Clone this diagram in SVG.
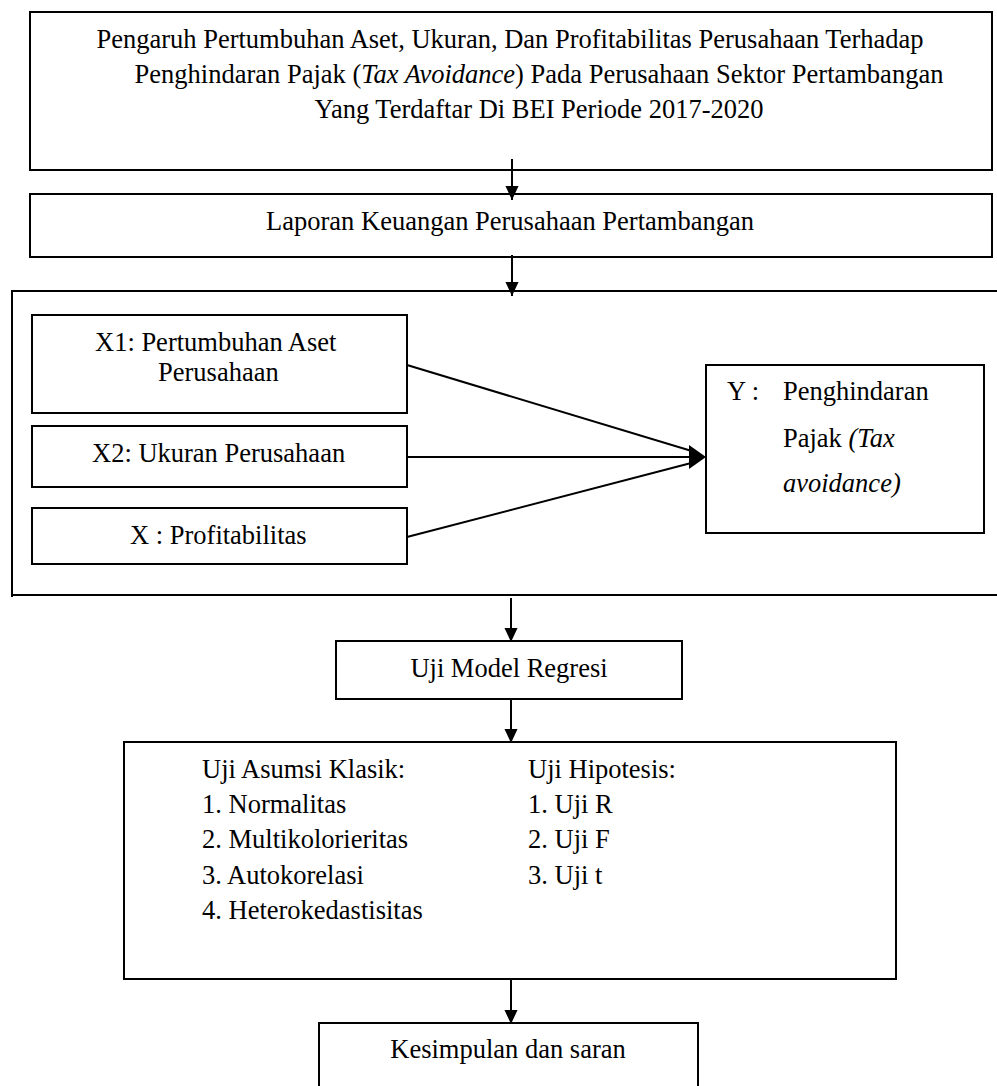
<svg xmlns="http://www.w3.org/2000/svg" width="997" height="1086" viewBox="0 0 997 1086" font-family="Liberation Serif, Times New Roman, DejaVu Serif, serif">
<style>
.b{fill:#fff;stroke:#000;stroke-width:2}
.l{fill:none;stroke:#000;stroke-width:2}
text{font-family:'Liberation Serif','Times New Roman','DejaVu Serif',serif;font-size:26.5px;fill:#000}
.c{text-anchor:middle}
.i{font-style:italic}
</style>
<defs>
<marker id="ah" markerWidth="14" markerHeight="14" refX="15" refY="7" orient="auto" markerUnits="userSpaceOnUse" viewBox="0 0 15 14">
<path d="M0,0 L15,7 L0,14 Z" fill="#000"/>
</marker>
</defs>
<rect width="997" height="1086" fill="#fff"/>
<g id="frame">
<path class="l" d="M997,291 H12 V597 M12,595 H997"/>
</g>
<g id="title">
<rect class="b" x="30" y="12" width="962" height="158"/>
<text class="c" x="510" y="48">Pengaruh Pertumbuhan Aset, Ukuran, Dan Profitabilitas Perusahaan Terhadap</text>
<text class="c" x="539" y="83">Penghindaran Pajak (<tspan class="i">Tax Avoidance</tspan>) Pada Perusahaan Sektor Pertambangan</text>
<text class="c" x="539" y="118">Yang Terdaftar Di BEI Periode 2017-2020</text>
</g>
<g id="laporan">
<rect class="b" x="30" y="194" width="962" height="63"/>
<text class="c" x="510" y="230">Laporan Keuangan Perusahaan Pertambangan</text>
</g>
<g id="x1">
<rect class="b" x="32" y="315" width="375" height="98"/>
<text x="95" y="351">X1: Pertumbuhan Aset</text>
<text x="158" y="381">Perusahaan</text>
</g>
<g id="x2">
<rect class="b" x="32" y="426" width="375" height="61"/>
<text x="92" y="462">X2: Ukuran Perusahaan</text>
</g>
<g id="x3">
<rect class="b" x="32" y="508" width="375" height="56"/>
<text x="130" y="544">X : Profitabilitas</text>
</g>
<g id="y">
<rect class="b" x="706" y="365" width="278" height="168"/>
<text x="727" y="400">Y :</text>
<text x="783" y="400">Penghindaran</text>
<text x="783" y="447">Pajak <tspan class="i">(Tax</tspan></text>
<text x="783" y="492" class="i">avoidance)</text>
</g>
<g id="model">
<rect class="b" x="336" y="641" width="346" height="58"/>
<text class="c" x="509" y="677">Uji Model Regresi</text>
</g>
<g id="uji">
<rect class="b" x="124" y="742" width="772" height="237"/>
<text x="202" y="778">Uji Asumsi Klasik:</text>
<text x="202" y="813">1. Normalitas</text>
<text x="202" y="848">2. Multikolorieritas</text>
<text x="202" y="884">3. Autokorelasi</text>
<text x="202" y="919">4. Heterokedastisitas</text>
<text x="528" y="778">Uji Hipotesis:</text>
<text x="528" y="813">1. Uji R</text>
<text x="528" y="848">2. Uji F</text>
<text x="528" y="884">3. Uji t</text>
</g>
<g id="kesimpulan">
<path class="b" d="M319,1090 V1023 H698 V1090"/>
<text class="c" x="508" y="1058">Kesimpulan dan saran</text>
</g>
<g id="connectors">
<line class="l" x1="512" y1="159" x2="512" y2="200" marker-end="url(#ah)"/>
<line class="l" x1="512" y1="255" x2="512" y2="296" marker-end="url(#ah)"/>
<line class="l" x1="511" y1="598" x2="511" y2="642" marker-end="url(#ah)"/>
<line class="l" x1="511" y1="700" x2="511" y2="743" marker-end="url(#ah)"/>
<line class="l" x1="511" y1="980" x2="511" y2="1024" marker-end="url(#ah)"/>
<line class="l" x1="407" y1="365" x2="695" y2="452"/>
<line class="l" x1="407" y1="457" x2="695" y2="457"/>
<line class="l" x1="407" y1="537" x2="695" y2="462"/>
<polygon points="706,457 689,445 689,469" fill="#000"/>
</g>
</svg>
